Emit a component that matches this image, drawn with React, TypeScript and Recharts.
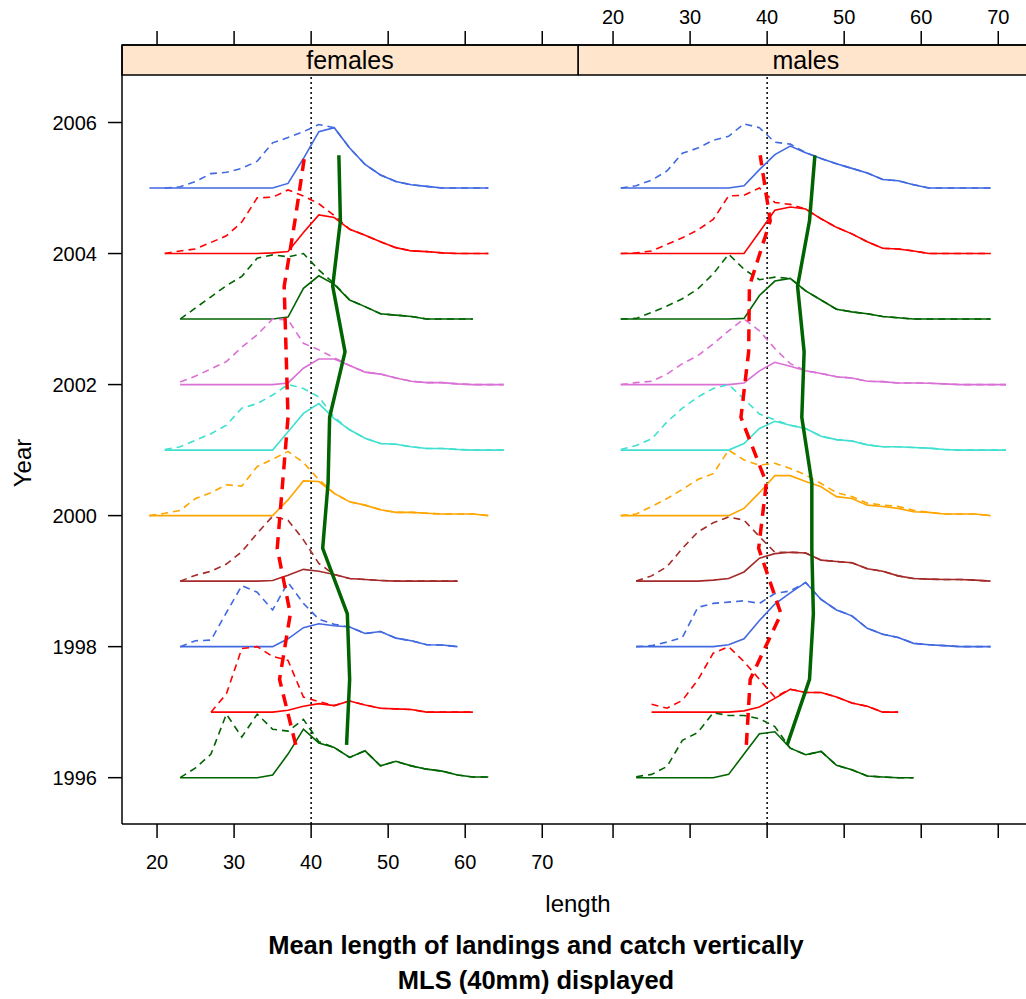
import React from 'react'
import { LineChart, Line, XAxis, YAxis, ReferenceLine, ReferenceArea } from 'recharts'

const years = [1996, 1997, 1998, 1999, 2000, 2001, 2002, 2003, 2004, 2005]
const yearColours = ['#006400', '#FF0000', '#4169E1', '#A52A2A', '#FFA500', '#40E0D0', '#DA70D6', '#006400', '#FF0000', '#4169E1']
const lengthTicks = [20, 30, 40, 50, 60, 70]
const yearTicks = [1996, 1998, 2000, 2002, 2004, 2006]
const MLS = 40

// each row: first length class, then the curve height above its year line for every 2mm class
const femaleLandings = [
  [23, 0, 0, 0, 0, 0, 0, 0.04, 0.36, 0.74, 0.53, 0.46, 0.31, 0.41, 0.18, 0.25, 0.18, 0.13, 0.1, 0.04, 0.01, 0.01],
  [27, 0, 0, 0, 0, 0, 0.03, 0.09, 0.13, 0.1, 0.17, 0.11, 0.06, 0.05, 0.04, 0, 0, 0, 0],
  [23, 0, 0, 0, 0, 0, 0, 0, 0.12, 0.29, 0.35, 0.32, 0.3, 0.2, 0.23, 0.13, 0.09, 0.03, 0.025, 0],
  [23, 0, 0, 0, 0, 0, 0, 0.01, 0.09, 0.18, 0.15, 0.1, 0.04, 0.025, 0.01, 0, 0, 0, 0, 0],
  [19, 0, 0, 0, 0, 0, 0, 0, 0, 0, 0.24, 0.53, 0.52, 0.34, 0.21, 0.16, 0.09, 0.05, 0.05, 0.035, 0.025, 0.025, 0.025, 0],
  [21, 0, 0, 0, 0, 0, 0, 0, 0, 0.28, 0.56, 0.71, 0.48, 0.31, 0.18, 0.1, 0.09, 0.05, 0.025, 0.025, 0.01, 0, 0, 0],
  [23, 0, 0, 0, 0, 0, 0, 0, 0.025, 0.25, 0.39, 0.39, 0.29, 0.19, 0.16, 0.1, 0.05, 0.03, 0.03, 0.01, 0, 0, 0],
  [23, 0, 0, 0, 0, 0, 0, 0, 0.03, 0.47, 0.66, 0.53, 0.29, 0.19, 0.08, 0.06, 0.04, 0, 0, 0, 0],
  [21, 0, 0, 0, 0, 0, 0, 0, 0.01, 0.03, 0.32, 0.59, 0.55, 0.37, 0.28, 0.18, 0.09, 0.04, 0.03, 0.01, 0, 0, 0],
  [19, 0, 0, 0, 0, 0, 0, 0, 0, 0, 0.07, 0.45, 0.86, 0.92, 0.61, 0.36, 0.2, 0.1, 0.05, 0.025, 0, 0, 0, 0],
]

const femaleCatch = [
  [23, 0, 0.15, 0.36, 0.97, 0.62, 0.97, 0.74, 0.71, 0.89, 0.55, 0.46, 0.31, 0.41, 0.18, 0.25, 0.18, 0.13, 0.1, 0.04, 0.01, 0.01],
  [27, 0, 0.28, 0.97, 1.0, 0.85, 0.79, 0.23, 0.16, 0.1, 0.17, 0.11, 0.06, 0.05, 0.04, 0, 0, 0, 0],
  [23, 0, 0.09, 0.1, 0.52, 0.93, 0.83, 0.56, 0.98, 0.66, 0.42, 0.34, 0.3, 0.2, 0.23, 0.13, 0.09, 0.03, 0.025, 0],
  [23, 0, 0.09, 0.15, 0.26, 0.45, 0.73, 0.99, 0.93, 0.63, 0.27, 0.1, 0.04, 0.025, 0.01, 0, 0, 0, 0, 0],
  [19, 0, 0.035, 0.08, 0.26, 0.35, 0.47, 0.45, 0.75, 0.86, 0.98, 0.81, 0.55, 0.34, 0.21, 0.16, 0.09, 0.05, 0.05, 0.035, 0.025, 0.025, 0.025, 0],
  [21, 0.01, 0.05, 0.15, 0.25, 0.38, 0.64, 0.71, 0.84, 1.0, 0.94, 0.81, 0.5, 0.31, 0.18, 0.1, 0.09, 0.05, 0.025, 0.025, 0.01, 0, 0, 0],
  [23, 0.04, 0.13, 0.24, 0.35, 0.57, 0.76, 1.0, 0.99, 0.63, 0.53, 0.41, 0.29, 0.19, 0.16, 0.1, 0.05, 0.03, 0.03, 0.01, 0, 0, 0],
  [23, 0, 0.17, 0.34, 0.51, 0.65, 0.93, 0.98, 0.95, 1.0, 0.75, 0.54, 0.29, 0.19, 0.08, 0.06, 0.04, 0, 0, 0, 0],
  [21, 0, 0.04, 0.07, 0.17, 0.27, 0.48, 0.85, 0.86, 0.97, 0.88, 0.76, 0.58, 0.37, 0.28, 0.18, 0.09, 0.04, 0.03, 0.01, 0, 0, 0],
  [21, 0, 0.02, 0.1, 0.22, 0.24, 0.3, 0.41, 0.69, 0.77, 0.86, 0.97, 0.92, 0.61, 0.36, 0.2, 0.1, 0.05, 0.025, 0, 0, 0, 0],
]

const maleLandings = [
  [23, 0, 0, 0, 0, 0, 0, 0.05, 0.36, 0.67, 0.7, 0.45, 0.35, 0.4, 0.19, 0.12, 0.025, 0.01, 0, 0],
  [25, 0, 0, 0, 0, 0, 0, 0.02, 0.08, 0.21, 0.35, 0.3, 0.3, 0.23, 0.14, 0.09, 0, 0],
  [23, 0, 0, 0, 0, 0, 0, 0.03, 0.12, 0.4, 0.65, 0.82, 0.98, 0.72, 0.56, 0.47, 0.28, 0.19, 0.14, 0.05, 0.03, 0.015, 0, 0, 0],
  [23, 0, 0, 0, 0, 0, 0.015, 0.04, 0.14, 0.35, 0.42, 0.44, 0.43, 0.32, 0.3, 0.28, 0.19, 0.15, 0.08, 0.04, 0.03, 0.025, 0.025, 0.015, 0],
  [21, 0, 0, 0, 0, 0, 0, 0, 0, 0.11, 0.35, 0.61, 0.61, 0.52, 0.44, 0.29, 0.26, 0.16, 0.14, 0.11, 0.06, 0.05, 0.025, 0.025, 0.025, 0],
  [21, 0, 0, 0, 0, 0, 0, 0, 0, 0.1, 0.33, 0.44, 0.38, 0.33, 0.21, 0.16, 0.14, 0.08, 0.05, 0.05, 0.04, 0.03, 0.01, 0, 0, 0, 0],
  [21, 0, 0, 0, 0, 0, 0, 0, 0, 0.025, 0.21, 0.34, 0.28, 0.21, 0.17, 0.12, 0.1, 0.05, 0.045, 0.025, 0.025, 0.02, 0.01, 0, 0, 0, 0],
  [21, 0, 0, 0, 0, 0, 0, 0, 0, 0.01, 0.36, 0.58, 0.62, 0.43, 0.29, 0.15, 0.11, 0.08, 0.04, 0.02, 0, 0, 0, 0, 0, 0],
  [21, 0, 0, 0, 0, 0, 0, 0, 0, 0, 0.33, 0.66, 0.71, 0.68, 0.53, 0.4, 0.3, 0.18, 0.08, 0.07, 0.04, 0, 0, 0, 0, 0],
  [21, 0, 0, 0, 0, 0, 0, 0, 0, 0.035, 0.28, 0.51, 0.64, 0.54, 0.45, 0.37, 0.3, 0.23, 0.13, 0.11, 0.05, 0, 0, 0, 0, 0],
]

const maleCatch = [
  [23, 0.015, 0.05, 0.17, 0.57, 0.69, 0.99, 0.95, 0.95, 0.9, 0.78, 0.45, 0.35, 0.4, 0.19, 0.12, 0.025, 0.01, 0, 0],
  [25, 0.12, 0.06, 0.18, 0.49, 0.9, 1.0, 0.77, 0.5, 0.23, 0.35, 0.3, 0.3, 0.23, 0.14, 0.09, 0, 0],
  [23, 0, 0.015, 0.07, 0.14, 0.6, 0.66, 0.68, 0.7, 0.66, 0.81, 0.85, 0.98, 0.72, 0.56, 0.47, 0.28, 0.19, 0.14, 0.05, 0.03, 0.015, 0, 0, 0],
  [23, 0, 0.08, 0.22, 0.5, 0.75, 0.89, 0.98, 0.93, 0.68, 0.44, 0.44, 0.43, 0.32, 0.3, 0.28, 0.19, 0.15, 0.08, 0.04, 0.03, 0.025, 0.025, 0.015, 0],
  [21, 0, 0.025, 0.14, 0.26, 0.4, 0.55, 0.64, 1.0, 0.85, 0.77, 0.8, 0.72, 0.62, 0.49, 0.35, 0.29, 0.19, 0.16, 0.14, 0.08, 0.05, 0.025, 0.025, 0.025, 0],
  [21, 0.01, 0.07, 0.17, 0.43, 0.64, 0.81, 0.94, 1.0, 0.78, 0.55, 0.46, 0.38, 0.33, 0.21, 0.16, 0.14, 0.08, 0.05, 0.05, 0.04, 0.03, 0.01, 0, 0, 0, 0],
  [21, 0, 0.03, 0.05, 0.16, 0.32, 0.44, 0.62, 0.82, 1.0, 0.82, 0.55, 0.32, 0.21, 0.17, 0.12, 0.1, 0.05, 0.045, 0.025, 0.025, 0.02, 0.01, 0, 0, 0, 0],
  [21, 0, 0.01, 0.1, 0.2, 0.31, 0.46, 0.69, 0.99, 0.76, 0.6, 0.64, 0.62, 0.43, 0.29, 0.15, 0.11, 0.08, 0.04, 0.02, 0, 0, 0, 0, 0, 0],
  [21, 0, 0.01, 0.04, 0.14, 0.24, 0.36, 0.52, 0.88, 0.89, 1.0, 0.78, 0.75, 0.68, 0.53, 0.4, 0.3, 0.18, 0.08, 0.07, 0.04, 0, 0, 0, 0, 0],
  [21, 0, 0.035, 0.12, 0.26, 0.53, 0.61, 0.73, 0.79, 0.98, 0.92, 0.7, 0.67, 0.54, 0.45, 0.37, 0.3, 0.23, 0.13, 0.11, 0.05, 0, 0, 0, 0, 0],
]

// mean length per year (plotted half way up each year band)
const femaleMeanCatch = [38.0, 35.9, 37.3, 35.6, 36.3, 37.0, 36.75, 36.5, 37.9, 39.17]
const femaleMeanLandings = [44.6, 45.0, 44.7, 41.5, 42.2, 42.4, 44.4, 42.8, 43.8, 43.6]
const maleMeanCatch = [37.3, 37.8, 41.8, 38.9, 39.9, 36.6, 37.6, 37.7, 40.4, 39.1]
const maleMeanLandings = [42.6, 45.5, 46.0, 45.8, 45.8, 44.5, 44.8, 43.95, 45.5, 46.2]

const X_MIN = 15.45
const Y_MIN = 1995.293
const Y_MAX = 2007.183
const STRIP_BOTTOM = 2006.725

const toPoints = (row: number[], year: number) => {
  const [from, ...h] = row
  return h.map((v, k) => ({ x: from + 2 * k, y: year + v }))
}
const meanPoints = (means: number[]) => means.map((m, i) => ({ x: m, y: years[i] + 0.5 }))

const noLabel = () => <g />
const black = { stroke: '#000', strokeWidth: 1.5 }
const tickFont = { fontSize: 20, fill: '#000' }

interface PanelProps {
  sex: string
  landings: number[][]
  catches: number[][]
  meanLandings: number[]
  meanCatch: number[]
  left: number
  width: number
  xMax: number
  stripEnd: number
  outer: boolean
}

function Panel({ sex, landings, catches, meanLandings, meanCatch, left, width, xMax, stripEnd, outer }: PanelProps) {
  return (
    <div style={{ position: 'absolute', left, top: 0 }}>
      <LineChart width={width} height={999} margin={{ top: 0, right: outer ? 2 : 0, bottom: 0, left: 0 }}>
        <XAxis
          xAxisId="b"
          type="number"
          dataKey="x"
          orientation="bottom"
          domain={[X_MIN, xMax]}
          allowDataOverflow
          ticks={lengthTicks}
          interval={0}
          height={175}
          tickSize={14}
          tickMargin={17}
          tick={outer ? tickFont : noLabel}
          tickLine={black}
          axisLine={black}
        />
        <XAxis
          xAxisId="t"
          type="number"
          dataKey="x"
          orientation="top"
          domain={[X_MIN, xMax]}
          allowDataOverflow
          ticks={lengthTicks}
          interval={0}
          height={45}
          tickSize={14}
          tickMargin={7}
          tick={outer ? noLabel : tickFont}
          tickLine={black}
          axisLine={black}
        />
        <YAxis
          yAxisId="y"
          type="number"
          domain={[Y_MIN, Y_MAX]}
          allowDataOverflow
          ticks={yearTicks}
          interval={0}
          width={outer ? 122 : 0}
          hide={!outer}
          tickSize={14}
          tickMargin={11}
          tick={tickFont}
          tickLine={black}
          axisLine={black}
        />
        {outer && (
          <YAxis
            yAxisId="r"
            orientation="right"
            type="number"
            domain={[Y_MIN, Y_MAX]}
            allowDataOverflow
            width={0}
            tick={false}
            tickLine={false}
            axisLine={black}
          />
        )}
        <ReferenceArea
          xAxisId="b"
          yAxisId="y"
          x1={X_MIN}
          x2={stripEnd}
          y1={STRIP_BOTTOM}
          y2={Y_MAX}
          ifOverflow="visible"
          fill="#FFE5CC"
          fillOpacity={1}
          stroke="#000"
          strokeWidth={1.5}
          label={{ value: sex, position: 'center', fontSize: 25, fill: '#000' }}
        />
        <ReferenceLine
          xAxisId="b"
          yAxisId="y"
          segment={[{ x: MLS, y: Y_MIN }, { x: MLS, y: STRIP_BOTTOM }]}
          stroke="#000"
          strokeWidth={1.5}
          strokeDasharray="2 3"
        />
        {years.map((yr, i) => (
          <Line
            key={'l' + yr}
            xAxisId="b"
            yAxisId="y"
            data={toPoints(landings[i], yr)}
            dataKey="y"
            type="linear"
            stroke={yearColours[i]}
            strokeWidth={1.6}
            dot={false}
            activeDot={false}
            isAnimationActive={false}
          />
        ))}
        {years.map((yr, i) => (
          <Line
            key={'c' + yr}
            xAxisId="b"
            yAxisId="y"
            data={toPoints(catches[i], yr)}
            dataKey="y"
            type="linear"
            stroke={yearColours[i]}
            strokeWidth={1.6}
            strokeDasharray="7 5"
            dot={false}
            activeDot={false}
            isAnimationActive={false}
          />
        ))}
        <Line
          xAxisId="b"
          yAxisId="y"
          data={meanPoints(meanCatch)}
          dataKey="y"
          type="linear"
          stroke="#FF0000"
          strokeWidth={3.5}
          strokeDasharray="12 8"
          dot={false}
          activeDot={false}
          isAnimationActive={false}
        />
        <Line
          xAxisId="b"
          yAxisId="y"
          data={meanPoints(meanLandings)}
          dataKey="y"
          type="linear"
          stroke="#006400"
          strokeWidth={3.5}
          dot={false}
          activeDot={false}
          isAnimationActive={false}
        />
      </LineChart>
    </div>
  )
}

export default function App() {
  return (
    <div
      style={{
        position: 'absolute',
        left: 0,
        top: 0,
        width: 1026,
        height: 999,
        overflow: 'hidden',
        background: '#fff',
        fontFamily: '"Liberation Sans", Arial, Helvetica, sans-serif',
      }}
    >
      <Panel
        sex="males"
        landings={maleLandings}
        catches={maleCatch}
        meanLandings={maleMeanLandings}
        meanCatch={maleMeanCatch}
        left={578}
        width={448}
        xMax={73.6}
        stripEnd={74.6}
        outer={false}
      />
      <Panel
        sex="females"
        landings={femaleLandings}
        catches={femaleCatch}
        meanLandings={femaleMeanLandings}
        meanCatch={femaleMeanCatch}
        left={0}
        width={580}
        xMax={74.64}
        stripEnd={74.64}
        outer={true}
      />
      <svg width={1026} height={999} style={{ position: 'absolute', left: 0, top: 0, pointerEvents: 'none' }}>
        <text x={22} y={463} fontSize={24} textAnchor="middle" dominantBaseline="central" transform="rotate(-90 22 463)">
          Year
        </text>
        <text x={578} y={903} fontSize={24} textAnchor="middle" dominantBaseline="central">
          length
        </text>
        <text x={536} y={945} fontSize={25.5} fontWeight="bold" textAnchor="middle" dominantBaseline="central">
          Mean length of landings and catch vertically
        </text>
        <text x={536} y={980} fontSize={25.5} fontWeight="bold" textAnchor="middle" dominantBaseline="central">
          MLS (40mm) displayed
        </text>
      </svg>
    </div>
  )
}
